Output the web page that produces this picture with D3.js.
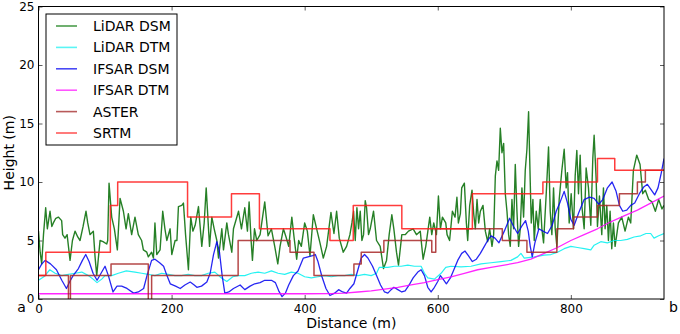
<!DOCTYPE html>
<html>
<head>
<meta charset="utf-8">
<script src="https://cdn.jsdelivr.net/npm/d3@7"></script>
<style>
  body { margin: 0; background: #fff; }
  svg { font-family: "DejaVu Sans", sans-serif; }
</style>
</head>
<body>
<div id="chart"></div>
<script>
// profile from a to b, [distance (m), height (m)]
const lidarDsm = [
  [0,5.8],[2.5,4.0],[4.8,3.0],[7.5,5.5],[10.8,7.8],[13.3,6.0],[17.3,7.5],[20,6.2],[22.3,6.5],[26,6.9],
  [29.8,7.0],[34.8,6.7],[36.3,5.5],[39.8,5.2],[43,5.5],[47.4,3.3],[51,5.0],[54.9,5.8],[59,5.3],[62.4,5.0],
  [67,6.2],[71.4,7.5],[74,6.5],[77.4,5.5],[82.4,5.8],[85,3.6],[87.5,2.0],[90,3.5],[92.5,5.0],[97,4.9],
  [102.5,4.7],[104,5.0],[106,9.9],[110,7.0],[114,6.0],[118.5,4.2],[122.6,8.6],[127.6,7.5],[131.6,6.0],[135,7.3],
  [140,5.5],[145,7.0],[150,5.5],[155,5.0],[157.6,4.2],[162.7,4.0],[165,3.6],[170,4.0],[172.7,3.5],[175,6.5],
  [177.7,3.8],[182.7,4.2],[186.7,7.5],[190,6.0],[192.8,5.0],[197.8,6.0],[200.3,3.8],[205.3,5.0],[208,5.0],[210.3,7.9],
  [215.3,8.0],[217.8,8.2],[221,5.5],[225.3,2.5],[228.8,7.0],[232,5.8],[235.4,6.3],[240.4,7.9],[245.4,4.5],[249,6.5],
  [252,9.5],[257,4.5],[260.5,7.0],[264,6.0],[268,5.0],[270.5,3.5],[275.5,6.0],[278,4.2],[283,6.5],[285.5,5.5],
  [290.5,4.0],[293,6.0],[300.6,7.5],[305,6.0],[310,7.8],[314,5.8],[316.5,8.3],[319.5,5.0],[321.5,3.3],[324.6,6.0],
  [328,5.0],[333,5.5],[340,8.3],[345,5.4],[350,6.0],[355,4.5],[359.6,3.0],[363,4.5],[368,6.0],[372,5.3],
  [376,4.5],[380.7,7.0],[384,5.3],[388,3.4],[391,5.0],[395,4.5],[400,6.5],[404,5.8],[408,3.7],[413,7.2],
  [418,6.0],[423,4.8],[428,3.5],[433,4.5],[439.5,7.4],[444,5.6],[448,7.5],[452,5.2],[458,4.0],[463,4.5],
  [468,5.5],[471,6.5],[473.5,7.5],[476,5.0],[478.5,7.8],[481,6.0],[483.5,7.5],[486,5.0],[488.5,5.5],[491,8.4],
  [493,7.8],[496,5.5],[498.5,6.0],[503.5,7.5],[508,5.0],[513.5,4.5],[518.5,2.6],[523,3.3],[527,5.5],[531,7.2],
  [534,6.0],[538,4.0],[541,2.9],[546,5.5],[551,5.5],[556,5.8],[563,6.0],[568,5.5],[573.7,5.8],[576,4.5],
  [578,3.4],[582,4.5],[588,7.0],[591,5.5],[594,6.5],[598,5.5],[601,8.8],[604,6.0],[607,7.0],[612,6.5],
  [614,5.5],[617.8,5.0],[622,7.5],[626,7.0],[628.8,8.7],[631,6.5],[634,7.3],[636,9.5],[640,9.9],[643,6.5],
  [645,5.0],[648,8.0],[651.5,9.3],[654,7.3],[656.5,6.0],[659,8.5],[661.5,6.5],[664,7.5],[668,8.0],[671.5,5.8],
  [675,4.9],[678,6.0],[681.5,4.5],[684,5.5],[686.5,10.5],[689,11.8],[691.5,11.0],[694,14.6],[696.5,12.5],[699,13.3],
  [701.5,9.0],[704,7.5],[706.5,5.5],[709,4.5],[711.5,8.5],[714,6.0],[716.5,11.5],[719,7.5],[721.5,4.5],[724,6.0],
  [726.5,9.5],[729,7.0],[731.5,11.0],[734,12.8],[736.5,16.0],[739,10.0],[740.5,6.5],[743,8.5],[745,5.0],[748,7.5],
  [751,6.0],[754,8.5],[756.5,6.0],[759,4.8],[763,9.0],[766.5,13.0],[769,7.5],[771.5,5.5],[774,9.5],[776.5,6.0],
  [779,4.5],[782.5,8.5],[786.5,11.0],[790,12.8],[793,9.5],[795,10.8],[797.5,6.5],[800.5,9.0],[804,6.0],[806.5,10.5],
  [809,12.7],[811.5,9.0],[814,12.3],[816.5,8.0],[820,6.0],[823,11.2],[826.5,9.5],[830,6.3],[833,12.0],[835,14.0],
  [838,10.3],[840,6.2],[843,8.8],[846.5,5.5],[849,9.5],[851.5,6.0],[854,8.0],[856.5,5.0],[859,7.5],[861.5,4.3],
  [864,6.5],[866.5,4.5],[871.5,6.5],[876.5,7.0],[881.5,5.8],[886.5,7.0],[890,6.5],[894,11.0],[899,12.3],[904,11.5],
  [908,9.0],[912,9.3],[917,8.5],[922,8.3],[927,7.5],[932,8.5],[937,7.7],[940,8.0]
];

const lidarDtm = [
  [0,1.6],[8,1.9],[17,2.5],[25,2.2],[35,2.0],[45,2.1],[55,2.2],[65,2.3],[75,2.0],[82,1.7],
  [88,1.4],[95,1.7],[100,2.0],[110,2.0],[120,2.2],[132,2.4],[145,2.3],[155,2.2],[165,2.1],[175,2.0],
  [185,2.2],[195,2.1],[205,2.0],[215,2.0],[225,2.1],[235,2.0],[245,2.0],[255,2.2],[265,2.3],[275,1.8],
  [283,1.5],[292,1.9],[300,2.0],[310,2.0],[320,2.2],[330,2.3],[340,2.2],[350,2.4],[360,2.2],[370,2.1],
  [380,2.3],[390,2.2],[400,1.9],[410,1.8],[420,1.9],[430,2.0],[440,1.9],[450,2.0],[460,2.0],[470,2.1],
  [480,2.0],[490,2.1],[500,2.0],[508,2.2],[512,2.7],[525,2.7],[535,2.8],[545,2.8],[555,2.9],[565,2.8],
  [575,2.8],[580,2.2],[585,1.8],[595,1.7],[605,2.2],[612,2.7],[620,2.8],[635,2.75],[650,2.8],[665,3.0],
  [680,3.1],[695,3.2],[710,3.3],[720,3.6],[725,3.9],[730,3.5],[745,3.6],[760,3.75],[770,3.8],[780,4.0],
  [790,4.3],[800,4.5],[810,4.4],[820,4.3],[830,4.2],[835,4.6],[845,4.9],[855,4.8],[865,5.0],[875,5.0],
  [885,5.1],[895,5.3],[905,5.4],[913,5.6],[920,5.6],[925,5.2],[932,5.4],[940,5.6]
];

const ifsarDsm = [
  [0,2.5],[5,3.0],[10,3.3],[18,3.0],[27,2.5],[35,1.6],[42,0.9],[47,1.5],[52,2.0],[60,2.6],
  [66,3.3],[71,3.8],[76,3.2],[82,2.2],[88,1.6],[94,2.2],[100,2.8],[105,2.0],[112,0.6],[118,1.1],
  [125,1.1],[133,0.9],[143,0.5],[150,0.6],[158,0.9],[163,2.0],[170,3.3],[175,3.4],[182,3.1],[188,2.8],
  [193,2.0],[198,1.3],[206,1.1],[213,0.9],[220,1.2],[228,1.45],[234,1.2],[238,1.0],[245,1.1],[253,1.45],
  [258,2.2],[263,3.8],[268,4.9],[272,4.0],[276,2.0],[280,0.5],[286,0.6],[293,0.9],[303,1.2],[310,0.8],
  [318,1.1],[325,1.3],[333,1.4],[340,1.6],[350,1.6],[356,1.4],[361,0.7],[366,0.2],[371,0.5],[376,1.2],
  [383,2.0],[390,2.4],[398,3.5],[405,3.6],[412,3.7],[416,3.8],[420,3.2],[426,1.9],[432,0.9],[438,0.3],
  [445,0.5],[451,0.8],[457,0.6],[463,0.5],[468,0.9],[474,1.3],[480,2.5],[485,3.5],[490,3.8],[495,3.5],
  [502,2.8],[508,2.0],[514,1.2],[520,0.6],[525,0.5],[530,0.8],[534,1.0],[540,0.8],[546,0.6],[551,0.7],
  [557,1.2],[563,1.8],[570,2.3],[575,2.5],[580,2.0],[585,1.0],[590,0.6],[595,1.0],[600,1.5],[604,2.0],
  [608,1.7],[613,1.3],[619,1.8],[625,2.6],[630,3.3],[636,3.9],[641,4.1],[646,3.7],[652,3.2],[658,3.4],
  [664,3.9],[670,4.5],[675,5.0],[680,5.4],[686,5.2],[692,4.8],[700,5.8],[708,6.9],[714,6.2],[720,5.6],
  [726,6.2],[732,6.7],[736,5.8],[739,4.5],[742,3.6],[746,4.8],[752,6.0],[758,5.8],[765,5.6],[772,6.3],
  [778,7.5],[784,8.3],[790,9.2],[795,8.2],[800,6.8],[805,6.3],[812,7.4],[820,8.5],[828,8.7],[835,8.6],
  [842,8.1],[848,8.5],[855,9.5],[862,10.0],[868,9.2],[873,8.0],[878,7.5],[884,7.6],[890,8.0],[896,8.2],
  [903,9.0],[910,9.6],[915,9.8],[920,9.4],[926,8.9],[931,9.5],[936,10.8],[940,12.0]
];

const ifsarDtm = [
  [0,0.45],[100,0.45],[200,0.45],[300,0.45],[400,0.45],[440,0.46],[460,0.5],[480,0.6],[500,0.7],[520,0.85],
  [540,1.0],[560,1.2],[580,1.4],[600,1.65],[620,1.9],[640,2.2],[660,2.5],[680,2.7],[700,2.9],[720,3.1],
  [740,3.4],[760,3.9],[780,4.4],[800,5.0],[820,5.5],[840,6.0],[860,6.6],[880,7.1],[900,7.6],[920,8.2],[940,8.8]
];

// raster products: value holds from this distance to the next one
const aster = [
  [0,2],[45,-3],[48,2],[109,3],[165,-3],[170,2],[300,5],[378,4],[414,2],[474,3],[485,4],[519,5],
  [591,4],[597,6],[697,5],[734,4],[779,6],[804,7],[840,8],[873,9],[900,10],[912,11],[940,11]
];

const srtm = [
  [0,2],[11,4],[108,8],[119,10],[224,7],[290,9],[332,6],[438,5],[473,8],[546,6],[652,9],[758,10],[840,12],[866,11],[940,11]
];

const seriesNames = ["LiDAR DSM", "LiDAR DTM", "IFSAR DSM", "IFSAR DTM", "ASTER", "SRTM"];
const seriesColors = ["#006a00", "#00f0f0", "#0000f0", "#ff00ff", "#a82828", "#ff1a1a"];
const legendColors = ["#4c9c4c", "#5af5f5", "#4a4af5", "#ff55ff", "#b85a5a", "#ff5a5a"];
const xTicks = [0, 200, 400, 600, 800];
const yTicks = [0, 5, 10, 15, 20, 25];

const W = 680, H = 334;
const plot = {left: 38.5, right: 664, top: 6.5, bottom: 299};

const svg = d3.select("#chart").append("svg")
    .attr("width", W)
    .attr("height", H);

const x = d3.scaleLinear().domain([0, 940]).range([plot.left, plot.right]);
const y = d3.scaleLinear().domain([0, 25]).range([plot.bottom, plot.top]);

svg.append("clipPath").attr("id", "plotclip")
    .append("rect")
    .attr("x", plot.left).attr("y", plot.top)
    .attr("width", plot.right - plot.left)
    .attr("height", plot.bottom - plot.top);

const lines = svg.append("g").attr("clip-path", "url(#plotclip)");

const smooth = d3.line().x(d => x(d[0])).y(d => y(d[1]));
const stepped = d3.line().x(d => x(d[0])).y(d => y(d[1])).curve(d3.curveStepAfter);

const allSeries = [
    {data: lidarDsm, gen: smooth, w: 1.4},
    {data: lidarDtm, gen: smooth, w: 1.2},
    {data: ifsarDsm, gen: smooth, w: 1.3},
    {data: ifsarDtm, gen: smooth, w: 1.3},
    {data: aster, gen: stepped, w: 1.5},
    {data: srtm, gen: stepped, w: 1.5}
];

allSeries.forEach((s, i) => {
    lines.append("path")
        .attr("d", s.gen(s.data))
        .attr("fill", "none")
        .attr("stroke", seriesColors[i])
        .attr("stroke-opacity", 0.85)
        .attr("stroke-width", s.w)
        .attr("stroke-linejoin", "round");
});

// ticks point inward on all four sides
const axisStyle = g => {
    g.select(".domain").remove();
    g.selectAll(".tick line").attr("stroke", "#333").attr("stroke-width", 0.8);
    g.selectAll("text").attr("font-size", 12).attr("fill", "#000")
        .attr("font-family", "DejaVu Sans, sans-serif");
};

svg.append("g")
    .attr("transform", `translate(0,${plot.bottom})`)
    .call(d3.axisBottom(x).tickValues(xTicks).tickSizeInner(-4).tickSizeOuter(0).tickPadding(5))
    .call(axisStyle);

svg.append("g")
    .attr("transform", `translate(0,${plot.top})`)
    .call(d3.axisTop(x).tickValues(xTicks).tickSizeInner(-4).tickSizeOuter(0).tickFormat(""))
    .call(axisStyle);

svg.append("g")
    .attr("transform", `translate(${plot.left},0)`)
    .call(d3.axisLeft(y).tickValues(yTicks).tickSizeInner(-4).tickSizeOuter(0).tickPadding(4))
    .call(axisStyle);

svg.append("g")
    .attr("transform", `translate(${plot.right},0)`)
    .call(d3.axisRight(y).tickValues(yTicks).tickSizeInner(-4).tickSizeOuter(0).tickFormat(""))
    .call(axisStyle);

svg.append("rect")
    .attr("x", plot.left).attr("y", plot.top)
    .attr("width", plot.right - plot.left)
    .attr("height", plot.bottom - plot.top)
    .attr("fill", "none")
    .attr("stroke", "#000")
    .attr("stroke-width", 1);

// axis labels and profile end points
svg.append("text")
    .attr("x", (plot.left + plot.right) / 2)
    .attr("y", 328)
    .attr("text-anchor", "middle")
    .attr("font-size", 14)
    .text("Distance (m)");

svg.append("text")
    .attr("transform", `translate(14,${(plot.top + plot.bottom) / 2}) rotate(-90)`)
    .attr("text-anchor", "middle")
    .attr("font-size", 14)
    .text("Height (m)");

svg.append("text").attr("x", 21.5).attr("y", 312)
    .attr("text-anchor", "middle").attr("font-size", 14).text("a");
svg.append("text").attr("x", 673.5).attr("y", 312)
    .attr("text-anchor", "middle").attr("font-size", 14).text("b");

// legend
const legend = svg.append("g");
legend.append("rect")
    .attr("x", 46).attr("y", 14)
    .attr("width", 131).attr("height", 131)
    .attr("fill", "#fff")
    .attr("stroke", "#000")
    .attr("stroke-width", 1);

seriesNames.forEach((name, i) => {
    const ly = 26 + i * 21.4;
    legend.append("line")
        .attr("x1", 56).attr("x2", 77)
        .attr("y1", ly).attr("y2", ly)
        .attr("stroke", legendColors[i])
        .attr("stroke-width", 1.6);
    legend.append("text")
        .attr("x", 93).attr("y", ly + 5)
        .attr("font-size", 14)
        .text(name);
});
</script>
</body>
</html>
